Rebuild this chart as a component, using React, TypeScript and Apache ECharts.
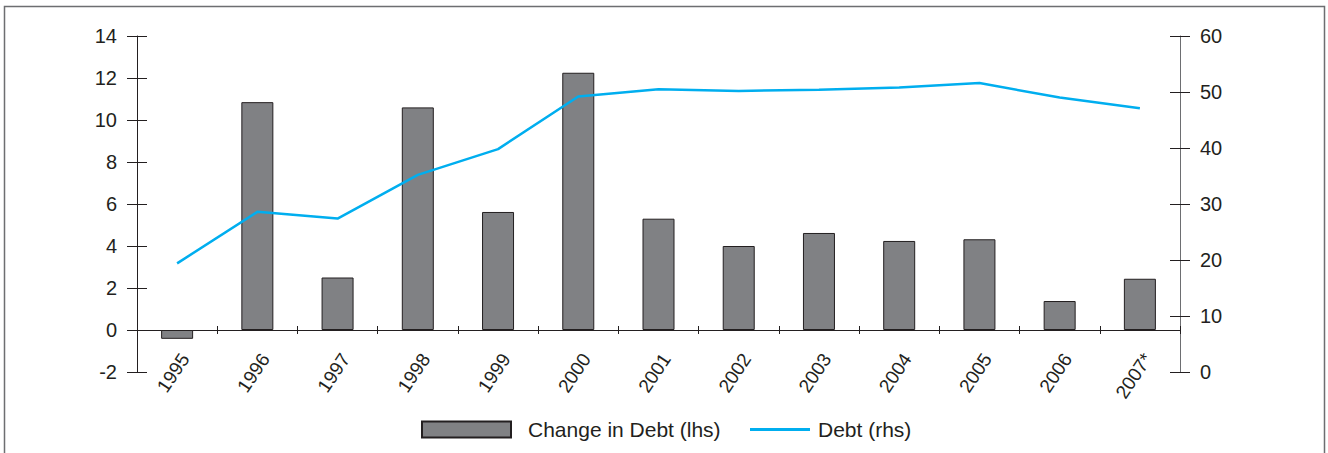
import React, { useEffect, useRef } from "react";
import * as echarts from "echarts";

const categories = ["1995", "1996", "1997", "1998", "1999", "2000", "2001", "2002", "2003", "2004", "2005", "2006", "2007*"];
const changeInDebt = [-0.42, 10.85, 2.5, 10.6, 5.62, 12.25, 5.3, 4.0, 4.62, 4.24, 4.32, 1.38, 2.44];
const debt = [19.4, 28.6, 27.4, 35.2, 39.8, 49.2, 50.5, 50.2, 50.4, 50.8, 51.6, 49.0, 47.1];
const leftTicks = { min: -2, max: 14, interval: 2 };
const rightTicks = { min: 0, max: 60, interval: 10 };

const FONT = "'Liberation Sans', Arial, sans-serif";
const TEXT = "#231f20";

export default function App() {
  const ref = useRef<HTMLDivElement>(null);
  useEffect(() => {
    if (!ref.current) return;
    const chart = echarts.init(ref.current, null, { renderer: "svg" });
    const leftLine = { show: true, onZero: false, lineStyle: { color: "#231f20", width: 1 } };
    const rightLine = { show: true, onZero: false, lineStyle: { color: "#6d6e71", width: 1 } };
    chart.setOption({
      animation: false,
      textStyle: { fontFamily: FONT },
      graphic: [
        {
          type: "rect",
          shape: { x: 4.5, y: 6.5, width: 1320, height: 460 },
          style: { fill: "none", stroke: "#6d6e71", lineWidth: 1.5 },
          silent: true,
        },
      ],
      grid: { left: 137, right: 148, top: 36, bottom: 81, containLabel: false },
      legend: [
        {
          data: ["Change in Debt (lhs)"],
          left: 421,
          top: 419,
          itemWidth: 89,
          itemHeight: 16,
          textStyle: { fontSize: 21, color: TEXT, fontFamily: FONT, padding: [0, 0, 0, 12] },
          icon: "rect",
          padding: 0,
        },
        {
          data: ["Debt (rhs)"],
          left: 750,
          top: 419,
          itemWidth: 60,
          itemHeight: 3,
          icon: "rect",
          textStyle: { fontSize: 21, color: TEXT, fontFamily: FONT, padding: [0, 0, 0, 3] },
          padding: 0,
        },
      ],
      xAxis: [
        {
          type: "category",
          data: categories,
          axisLine: { show: true, onZero: true, onZeroAxisIndex: 0, lineStyle: { color: "#231f20", width: 1 } },
          axisTick: { show: true, length: 4, inside: false, lineStyle: { color: "#231f20" } },
          axisLabel: {
            rotate: 56,
            fontSize: 19,
            color: TEXT,
            fontFamily: FONT,
            margin: -22,
            interval: 0,
            verticalAlign: "top",
          },
          splitLine: { show: false },
        },
        {
          type: "category",
          data: categories,
          position: "bottom",
          axisLine: { show: false, onZero: true, onZeroAxisIndex: 0 },
          axisTick: { show: true, length: 4, inside: true, lineStyle: { color: "#231f20" } },
          axisLabel: { show: false },
          splitLine: { show: false },
        },
      ],
      yAxis: [
        {
          type: "value",
          position: "left",
          ...leftTicks,
          axisLine: leftLine,
          axisTick: { show: true, length: 10, lineStyle: { color: "#231f20" } },
          axisLabel: { fontSize: 20, color: TEXT, fontFamily: FONT, margin: 20 },
          splitLine: { show: false },
        },
        {
          type: "value",
          position: "right",
          ...rightTicks,
          axisLine: rightLine,
          axisTick: { show: true, length: 10, lineStyle: { color: "#231f20" } },
          axisLabel: { fontSize: 20, color: TEXT, fontFamily: FONT, margin: 20 },
          splitLine: { show: false },
        },
        {
          type: "value",
          position: "left",
          ...leftTicks,
          axisLine: { show: false },
          axisTick: { show: true, inside: true, length: 10, lineStyle: { color: "#231f20" } },
          axisLabel: { show: false },
          splitLine: { show: false },
        },
        {
          type: "value",
          position: "right",
          ...rightTicks,
          axisLine: { show: false },
          axisTick: { show: true, inside: true, length: 10, lineStyle: { color: "#231f20" } },
          axisLabel: { show: false },
          splitLine: { show: false },
        },
      ],
      series: [
        {
          name: "Change in Debt (lhs)",
          type: "bar",
          xAxisIndex: 0,
          yAxisIndex: 0,
          data: changeInDebt,
          barWidth: 32,
          itemStyle: { color: "#808184", borderColor: "#231f20", borderWidth: 1 },
        },
        {
          name: "Debt (rhs)",
          type: "line",
          xAxisIndex: 0,
          yAxisIndex: 1,
          data: debt,
          symbol: "none",
          lineStyle: { color: "#00aeef", width: 2.5 },
          itemStyle: { color: "#00aeef" },
        },
      ],
    });
    return () => chart.dispose();
  }, []);
  return <div ref={ref} style={{ width: 1328, height: 453, position: "absolute", left: 0, top: 0 }} />;
}
